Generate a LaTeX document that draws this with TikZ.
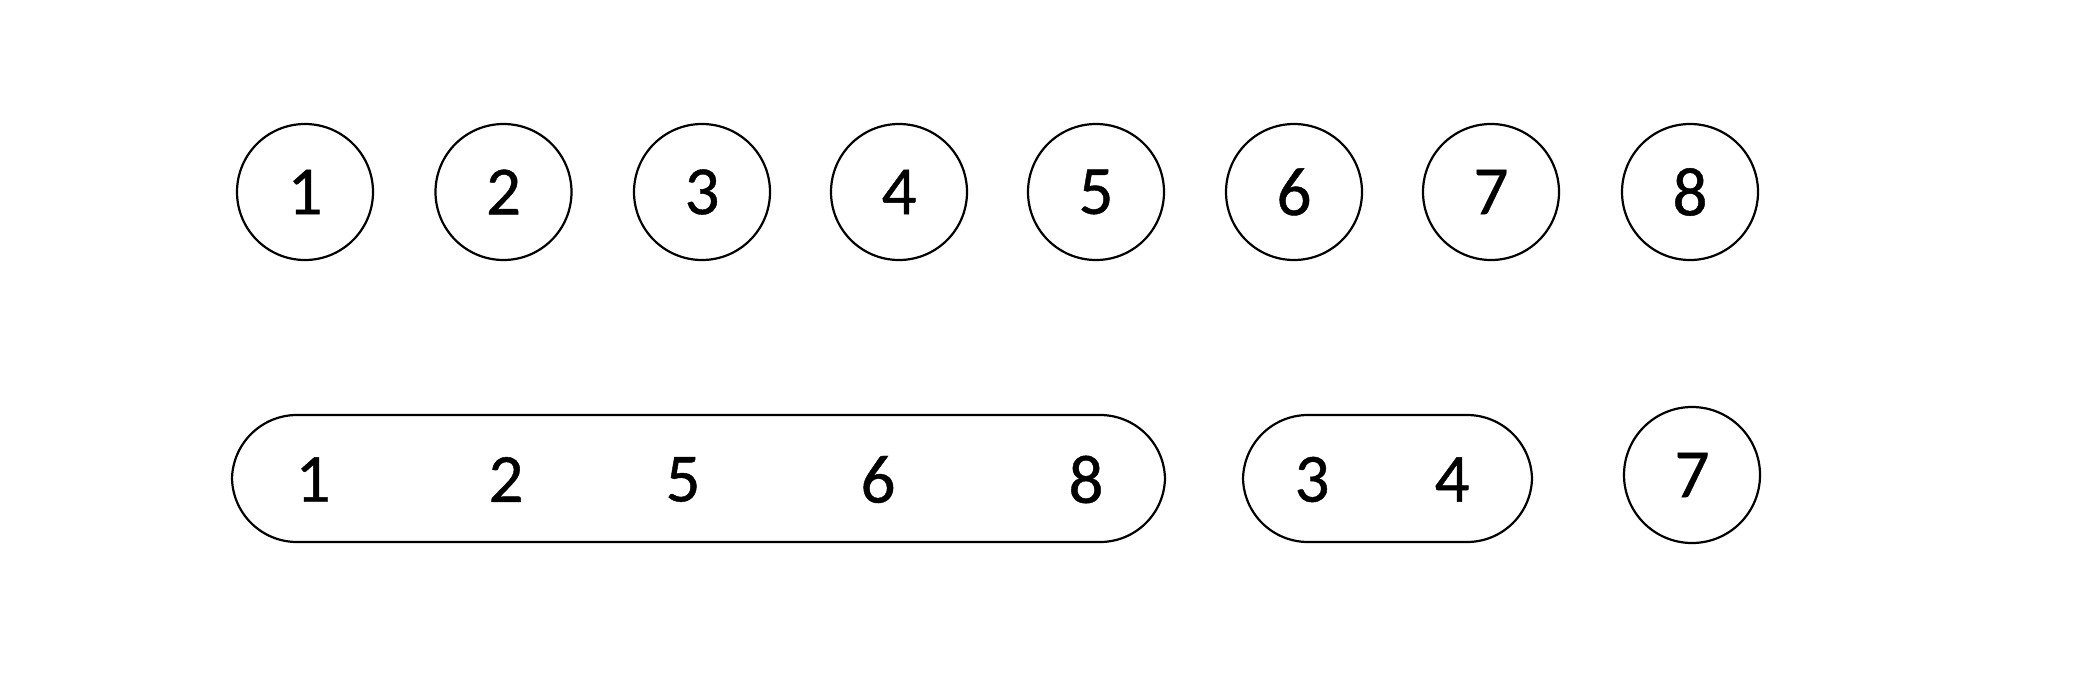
\documentclass[tikz,border=0pt]{standalone}
\usepackage{fontspec}
\setmainfont[RawFeature={embolden=0.6}]{Carlito}
\begin{document}
\begin{tikzpicture}[x=0.5pt,y=-0.5pt,
  lab/.style={inner sep=0pt, font=\fontsize{34.5}{40}\selectfont},
  ball/.style={draw, circle, line width=1.1pt, minimum size=68pt, inner sep=0pt, font=\fontsize{34.5}{40}\selectfont},
  group/.style={draw, line width=1.1pt, rounded corners=32.5pt, inner sep=0pt, minimum height=63.5pt}]
\useasboundingbox (0,0) rectangle (2080,674);
% top row
\node[ball] (t1) at (305,192) {1};
\node[ball] (t2) at (503.5,192) {2};
\node[ball] (t3) at (702,192) {3};
\node[ball] (t4) at (899,192) {4};
\node[ball] (t5) at (1096,192) {5};
\node[ball] (t6) at (1294,192) {6};
\node[ball] (t7) at (1491,192) {7};
\node[ball] (t8) at (1690,192) {8};
% bottom row
\node[group, minimum width=466.5pt] (g1) at (698.5,478.5) {};
\node[group, minimum width=144.5pt] (g2) at (1387.5,478.5) {};
\node[lab] (b1) at (313,479.5) {1};
\node[lab] (b2) at (506,479.5) {2};
\node[lab] (b5) at (683,479.5) {5};
\node[lab] (b6) at (878,479.5) {6};
\node[lab] (b8) at (1086,479.5) {8};
\node[lab] (b3) at (1312,479.5) {3};
\node[lab] (b4) at (1452,479.5) {4};
\node[ball] (b7) at (1692,475) {7};
\end{tikzpicture}
\end{document}
